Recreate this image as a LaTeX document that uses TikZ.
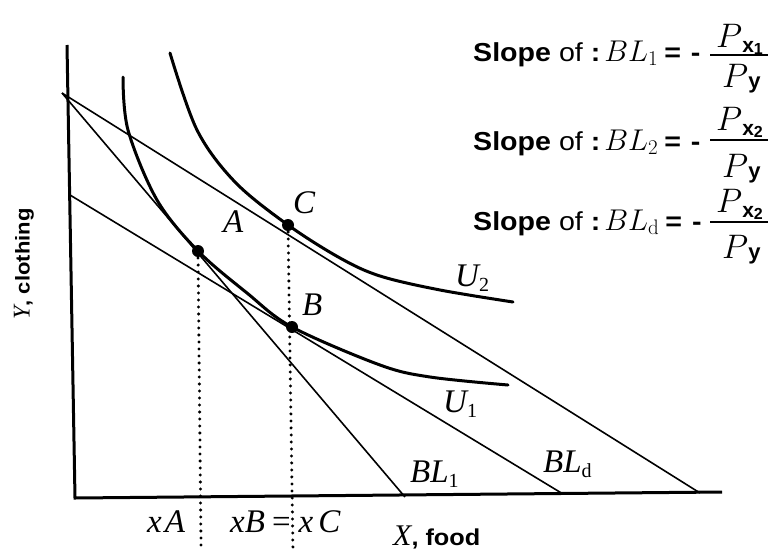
\RequirePackage{fix-cm}
\documentclass[tikz,border=0pt]{standalone}
\usepackage{amsmath}
\usepackage{fontspec}
\setsansfont{Liberation Sans}
\newfontfamily\wsans[FakeStretch=1.1]{Liberation Sans}
\newfontfamily\tms{Liberation Serif}
\newcommand{\lt}[2]{{\tms\itshape #1}\raisebox{-5pt}{\tms\fontsize{20}{22}\selectfont #2}}
\newcommand{\slopetext}[1]{{\fontsize{26}{30}\selectfont\wsans\bfseries Slope {\mdseries of} :}\kern4pt{\fontsize{30}{32}\selectfont$#1$}\kern6pt{\fontsize{26}{30}\selectfont\wsans\bfseries=\kern10pt-}}
\newcommand{\numtext}[1]{{\fontsize{34}{36}\selectfont$P$}{\fontsize{21}{24}\selectfont\sffamily\bfseries\raisebox{-5pt}{x\raisebox{-2pt}{\fontsize{16}{18}\selectfont #1}}}}
\newcommand{\dentext}{{\fontsize{34}{36}\selectfont$P$}{\fontsize{22}{24}\selectfont\sffamily\bfseries\raisebox{-1pt}{y}}}
\begin{document}
\begin{tikzpicture}[x=1pt,y=-1pt,
  axis/.style={line width=3pt, line join=miter},
  budget/.style={line width=1.6pt},
  indiff/.style={line width=3pt, line cap=round},
  guide/.style={line width=3.3pt, dash pattern=on 0pt off 7pt, line cap=round},
  pt/.style={circle, fill=black, inner sep=0pt, minimum size=12pt},
  lbl/.style={font=\fontsize{33}{35}\selectfont, inner sep=0pt},
  tb/.style={anchor=base west, inner sep=0pt},
  bar/.style={line width=2pt},
]
\useasboundingbox (0,0) rectangle (776,552);

% axes
\coordinate (Ytop) at (67,45);
\coordinate (O) at (75,498);
\coordinate (Xend) at (722,492);
\draw[axis] (Ytop) -- (O) -- (Xend);

% budget lines
\coordinate (S) at (62,93);
\coordinate (SD) at (70,195);
\coordinate (E1) at (405,497);
\coordinate (Ed) at (563,494);
\coordinate (E2) at (700,493);
\draw[budget] (S) -- (E1);
\draw[budget] (S) -- (E2);
\draw[budget] (SD) -- (Ed);

% indifference curves
\draw[indiff] plot[smooth, tension=0.55] coordinates {(123,77) (128,130) (157,200) (198,251) (247,293) (292,327) (380,365) (430,377) (508,385)};
\draw[indiff] plot[smooth, tension=0.55] coordinates {(170,53) (197,130) (235,182) (288,225) (340,258) (380,276) (440,290) (513,302)};

% points
\node[pt] (A) at (198,251) {};
\node[pt] (B) at (292,327) {};
\node[pt] (C) at (288,225) {};

% guides
\coordinate (xa) at (201,545);
\coordinate (xc) at (293,552);
\draw[guide] (A.center) -- (xa);
\draw[guide] (C.center) -- (xc);

% labels
\node[lbl, tb] (lA) at (223,232) {\lt{A}{}};
\node[lbl, tb] (lC) at (293,213) {\lt{C}{}};
\node[lbl, tb] (lB) at (302,315) {\lt{B}{}};
\node[lbl, tb] (lU2) at (455,286) {\lt{U}{2}};
\node[lbl, tb] (lU1) at (443,412) {\lt{U}{1}};
\node[lbl, tb] (lBL1) at (410,482) {\lt{BL}{1}};
\node[lbl, tb] (lBLd) at (543,472) {\lt{BL}{d}};
\node[lbl, tb] (lxA) at (147,532) {{\tms\itshape x\kern3pt A}};
\node[lbl, tb] (lxBC) at (230,532) {{\tms\itshape xB}\kern7pt{\tms=}\kern8pt{\tms\itshape x\kern5pt C}};
\node[tb] (lX) at (393,545) {{\fontsize{30}{32}\selectfont\tms\itshape X}{\fontsize{23}{26}\selectfont\wsans\bfseries, food}};
\node[rotate=90, inner sep=0pt] (lY) at (24,264) {{\fontsize{24}{28}\selectfont\tms\itshape Y}{\fontsize{20}{24}\selectfont\wsans\bfseries, clothing}};

% slope formulas
\node[tb] (f1) at (473,61) {\slopetext{BL_1}};
\node[tb] (n1) at (716,47) {\numtext{1}};
\node[tb] (d1) at (722,87) {\dentext};
\draw[bar] (710,55) -- (768,55);

\node[tb] (f2) at (473,150) {\slopetext{BL_2}};
\node[tb] (n2) at (716,130) {\numtext{2}};
\node[tb] (d2) at (722,177) {\dentext};
\draw[bar] (710,140) -- (768,140);

\node[tb] (f3) at (473,230) {\slopetext{BL_{\mathrm{d}}}};
\node[tb] (n3) at (716,212) {\numtext{2}};
\node[tb] (d3) at (722,258) {\dentext};
\draw[bar] (710,222) -- (768,222);
\end{tikzpicture}
\end{document}
